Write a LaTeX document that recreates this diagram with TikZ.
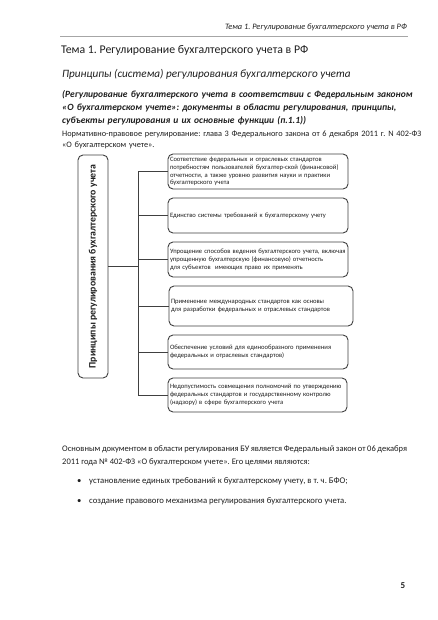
\documentclass[tikz,border=0pt]{standalone}
\usepackage{fontspec}
\setmainfont{Carlito}
\frenchspacing
\definecolor{txt}{HTML}{1E1E1E}
\definecolor{boxgray}{HTML}{404040}
\definecolor{rulegray}{HTML}{A6A6A6}
\tikzset{
  pbox/.style={draw=boxgray, line width=0.9pt, rounded corners=5pt, inner sep=2pt,
    font=\fontsize{6.6}{7.8}\selectfont, text=txt, align=left},
  conn/.style={draw=boxgray, line width=0.9pt},
  ptext/.style={anchor=base west, inner sep=0pt, text=txt, align=left},
}
\begin{document}
\begin{tikzpicture}[x=1pt,y=-1pt]
\useasboundingbox[fill=white] (0,0) rectangle (438,620);
% header
\node[anchor=base east, inner sep=0pt, text=txt, font=\fontsize{8.3}{10}\selectfont\itshape] (hdr) at (407,30)
  {Тема 1. Регулирование бухгалтерского учета в РФ};
\draw[rulegray, line width=0.6pt] (60,36) -- (408,36);
% title
\node[ptext, font=\fontsize{11.8}{14}\selectfont] (title) at (61,54)
  {Тема 1. Регулирование бухгалтерского учета в РФ};
\node[ptext, font=\fontsize{11.2}{14}\selectfont\itshape] (sub) at (62,77.5)
  {Принципы (система) регулирования бухгалтерского учета};
\node[ptext, text width=370pt, font=\fontsize{9.5}{12.8}\selectfont\bfseries\itshape] (para) at (62,97.5)
  {(Регулирование бухгалтерского учета в соответствии с Федеральным законом\\
  «О бухгалтерском учете»: документы в области регулирования, принципы,\\
  субъекты регулирования и их основные функции (п.1.1))};
\node[ptext, text width=370pt, font=\fontsize{8.3}{10.5}\selectfont] (norm) at (62,137)
  {Нормативно-правовое регулирование: глава 3 Федерального закона от 6 декабря 2011 г. N 402-ФЗ\\
  «О бухгалтерском учете».};
% diagram
\node[pbox, rotate=90, minimum width=223pt, minimum height=30pt, align=center,
  font=\fontsize{9.8}{11}\selectfont\bfseries] (lb) at (93,266.5)
  {Принципы регулирования бухгалтерского учета};
\node[pbox, minimum width=180pt, minimum height=35pt, text width=176pt] (b1) at (258,171.5)
  {Соответствие федеральных и отраслевых стандартов\\
  потребностям пользователей бухгалтер-ской (финансовой)\\
  отчетности, а также уровню развития науки и практики\\
  бухгалтерского учета};
\node[pbox, minimum width=180pt, minimum height=35pt, text width=176pt] (b2) at (258,215.5)
  {Единство системы требований к бухгалтерскому учету};
\node[pbox, minimum width=180pt, minimum height=35pt, text width=176pt] (b3) at (258,259.5)
  {Упрощение способов ведения бухгалтерского учета, включая\\
  упрощенную бухгалтерскую (финансовую) отчетность\\
  для субъектов\ \ имеющих право их применять};
\node[pbox, minimum width=184pt, minimum height=40pt, text width=180pt] (b4) at (261,306)
  {Применение международных стандартов как основы\\
  для разработки федеральных и отраслевых стандартов};
\node[pbox, minimum width=180pt, minimum height=34pt, text width=176pt] (b5) at (258,352)
  {Обеспечение условий для единообразного применения\\
  федеральных и отраслевых стандартов)};
\node[pbox, minimum width=179pt, minimum height=34pt, text width=175pt] (b6) at (257.5,395)
  {Недопустимость совмещения полномочий по утверждению\\
  федеральных стандартов и государственному контролю\\
  (надзору) в сфере бухгалтерского учета};
\coordinate (jt) at (138,266.5);
\draw[conn] (lb.south) -- (jt);
\draw[conn] (b1.west -| jt) -- (b6.west -| jt);
\foreach \b in {b1,b2,b3,b4,b5,b6} \draw[conn] (\b.west -| jt) -- (\b.west);
% bottom text
\node[anchor=base west, inner sep=0pt, text=txt, text width=345pt, align=justify,
  font=\fontsize{8.5}{13}\selectfont] (body) at (62,451)
  {Основным документом в области регулирования БУ является Федеральный закон от 06 декабря\linebreak
  2011 года № 402-ФЗ «О бухгалтерском учете». Его целями являются:};
\node[ptext, font=\fontsize{8.7}{12}\selectfont] (dot1) at (77,483) {•};
\node[ptext, font=\fontsize{8.7}{12}\selectfont] (bl1) at (89,483)
  {установление единых требований к бухгалтерскому учету, в т. ч. БФО;};
\node[ptext, font=\fontsize{8.7}{12}\selectfont] (dot2) at (77,503) {•};
\node[ptext, font=\fontsize{8.7}{12}\selectfont] (bl2) at (89,503)
  {создание правового механизма регулирования бухгалтерского учета.};
\node[anchor=base, inner sep=0pt, text=txt, font=\fontsize{9}{11}\selectfont\bfseries] (pg) at (403,588) {5};
\end{tikzpicture}
\end{document}
